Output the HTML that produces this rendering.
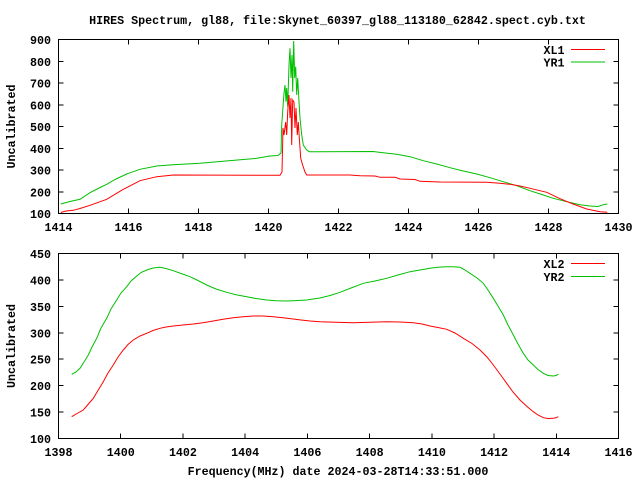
<!DOCTYPE html>
<html><head><meta charset="utf-8"><style>
html,body{margin:0;padding:0;background:#fff;}
svg{display:block;}
text{font-family:"Liberation Mono","DejaVu Sans Mono",monospace;font-size:11.67px;font-weight:bold;fill:#000;}
</style></head><body>
<svg width="640" height="480" viewBox="0 0 640 480" xmlns="http://www.w3.org/2000/svg">
<rect width="640" height="480" fill="#fff"/>
<text x="337.5" y="24" text-anchor="middle">HIRES Spectrum, gl88, file:Skynet_60397_gl88_113180_62842.spect.cyb.txt</text>

<!-- TOP PLOT -->
<g shape-rendering="crispEdges" stroke="#000" stroke-width="1" fill="none">
<rect x="58.5" y="39.5" width="560" height="174"/>
<path d="M58.5 213.5h5M618.5 213.5h-5M58.5 191.75h5M618.5 191.75h-5M58.5 170h5M618.5 170h-5M58.5 148.25h5M618.5 148.25h-5M58.5 126.5h5M618.5 126.5h-5M58.5 104.75h5M618.5 104.75h-5M58.5 83h5M618.5 83h-5M58.5 61.25h5M618.5 61.25h-5"/>
<path d="M128.5 213.5v-5M128.5 39.5v5M198.5 213.5v-5M198.5 39.5v5M268.5 213.5v-5M268.5 39.5v5M338.5 213.5v-5M338.5 39.5v5M408.5 213.5v-5M408.5 39.5v5M478.5 213.5v-5M478.5 39.5v5M548.5 213.5v-5M548.5 39.5v5"/>
</g>
<g text-anchor="end">
<text x="51" y="218">100</text><text x="51" y="196.25">200</text><text x="51" y="174.5">300</text><text x="51" y="152.75">400</text><text x="51" y="131">500</text><text x="51" y="109.25">600</text><text x="51" y="87.5">700</text><text x="51" y="65.75">800</text><text x="51" y="44">900</text>
</g>
<g text-anchor="middle">
<text x="58.5" y="231">1414</text><text x="128.5" y="231">1416</text><text x="198.5" y="231">1418</text><text x="268.5" y="231">1420</text><text x="338.5" y="231">1422</text><text x="408.5" y="231">1424</text><text x="478.5" y="231">1426</text><text x="548.5" y="231">1428</text><text x="618.5" y="231">1430</text>
</g>
<text transform="translate(15,126.5) rotate(-90)" text-anchor="middle">Uncalibrated</text>

<polyline fill="none" stroke="#00c000" stroke-width="1" points="60.7,204 70,201.5 80,199.3 90,192.7 100,187.5 106.7,184.3 116,179 126.7,174 140,169.3 156.7,166 173,164.7 200,163.3 223,161.3 256.7,158.3 270,156 278,155.5 281,153 281.7,125 284,93 285,85 286,101.7 286.7,88 287.7,106.7 289,65 290,48.3 291,78 292,55 292.7,91.7 293.7,41 294.7,78 295.7,66.7 296.7,95 297.7,78 299,101.7 300,118 301.7,135 303.3,145 306.7,150 309.3,151.7 320,151.7 373,151.5 383,152.7 396.7,154.3 410,156.7 423.3,160.7 436.7,164 450,167.7 463.3,171 476.7,174 490,177.7 503.3,181.7 516.7,185.7 530,190.7 543.3,195 553.3,198.3 566.7,201.7 580,204.7 590,206 598,206.5 603.3,204.7 607.3,204"/>
<polyline fill="none" stroke="#ff0000" stroke-width="1" points="60.7,212.5 66,211 73.3,210.3 80,208.5 90,205.3 106.7,199.3 123.3,189.3 140,180.7 156.7,176.7 173.3,175 280,175.3 282,172 283,128 284,135 285.7,122 286.7,135 287.7,112 289,95 290,118 291,98 291.7,145 292.7,100 294,102 295,128 296,108 297.3,135 298.3,122 299.3,138 300.7,158 301.7,162 303.3,167 305,172 306.7,175 350,175 360,175.7 375,176 380,177.3 395,177.3 400,179 415,179.5 420,181.3 440,182 486.7,182.3 500,183.3 510,184.3 520,186 530,188.3 546.7,192.3 560,198.7 573,204 586.7,209 600,211.7 607.3,212.3"/>

<text x="564.5" y="54" text-anchor="end">XL1</text>
<line x1="571" y1="49.5" x2="605" y2="49.5" stroke="#ff0000" stroke-width="1"/>
<text x="564.5" y="66.5" text-anchor="end">YR1</text>
<line x1="571" y1="62" x2="605" y2="62" stroke="#00c000" stroke-width="1"/>

<!-- BOTTOM PLOT -->
<g shape-rendering="crispEdges" stroke="#000" stroke-width="1" fill="none">
<rect x="58.5" y="253.5" width="560" height="185"/>
<path d="M58.5 412.07h5M618.5 412.07h-5M58.5 385.64h5M618.5 385.64h-5M58.5 359.21h5M618.5 359.21h-5M58.5 332.79h5M618.5 332.79h-5M58.5 306.36h5M618.5 306.36h-5M58.5 279.93h5M618.5 279.93h-5"/>
<path d="M120.72 438.5v-5M120.72 253.5v5M182.94 438.5v-5M182.94 253.5v5M245.17 438.5v-5M245.17 253.5v5M307.39 438.5v-5M307.39 253.5v5M369.61 438.5v-5M369.61 253.5v5M431.83 438.5v-5M431.83 253.5v5M494.06 438.5v-5M494.06 253.5v5M556.28 438.5v-5M556.28 253.5v5"/>
</g>
<g text-anchor="end">
<text x="51" y="443">100</text><text x="51" y="416.57">150</text><text x="51" y="390.14">200</text><text x="51" y="363.71">250</text><text x="51" y="337.29">300</text><text x="51" y="310.86">350</text><text x="51" y="284.43">400</text><text x="51" y="258">450</text>
</g>
<g text-anchor="middle">
<text x="58.5" y="456">1398</text><text x="120.72" y="456">1400</text><text x="182.94" y="456">1402</text><text x="245.17" y="456">1404</text><text x="307.39" y="456">1406</text><text x="369.61" y="456">1408</text><text x="431.83" y="456">1410</text><text x="494.06" y="456">1412</text><text x="556.28" y="456">1414</text><text x="618.5" y="456">1416</text>
</g>
<text transform="translate(15,346) rotate(-90)" text-anchor="middle">Uncalibrated</text>
<text x="338" y="475" text-anchor="middle">Frequency(MHz) date 2024-03-28T14:33:51.000</text>

<polyline fill="none" stroke="#00c000" stroke-width="1" points="71.7,374.3 76,372 80,368.3 84,362 88.3,355 92,347 96.7,338.3 101,328 106.7,318.3 111,309 116.7,300 121,293 126.7,286.7 131,281 136.7,276 141,272.5 146.7,270 153,268 160,267.3 166,268.5 173.3,270.7 181,273.5 190,276.7 198,280.5 206.7,285 216,289 226.7,292.3 236,294.7 246.7,296.7 256,298.5 266.7,300 276,300.8 286.7,301 296,300.6 306.7,300 313,299 320,298 330,295.5 340,292.3 351,288 363.3,283.3 375,281 386.7,278.3 398,275 410,271.7 420,270 430,268.3 438,267.3 446.7,266.7 453,266.8 460,267.3 465,270 470,273.3 477,278 483.3,283.3 488,290 493.3,298.3 498,306 503.3,315 508,325 513.3,335 518,344 523.3,353.3 528,360 533.3,365 538,369.5 543.3,373.3 548,375.5 553.3,376 556,375.5 558.3,374.3"/>
<polyline fill="none" stroke="#ff0000" stroke-width="1" points="71.7,416.7 77,413.5 83.3,410 88,404.5 93.3,398.3 98,390.5 103.3,381.7 108,373 113.3,365 118,357 123.3,350 128,344.5 133.3,340 140,336 146.7,333.3 153,330.5 160,328.3 166,327 173.3,326 183,325 193.3,324 203,322.8 213.3,321 223,319.3 233.3,317.7 243,316.7 253.3,316 263,316 273.3,316.7 283,317.8 293.3,319 301,320 310,321 320,321.7 336,322.3 353.3,322.7 370,322.3 386.7,321.7 400,322 413.3,322.7 422,324 430,326 438,327.5 446.7,329.3 455,333 463.3,338.3 472,343.5 480,350 487,357 493.3,365 500,374 506.7,383.3 513,392 520,400 527,406.5 533.3,411.7 538,415 543.3,417.7 548,418.5 553.3,418.3 556,417.8 558.3,416.7"/>

<text x="564.5" y="268" text-anchor="end">XL2</text>
<line x1="571" y1="263.5" x2="605" y2="263.5" stroke="#ff0000" stroke-width="1"/>
<text x="564.5" y="281" text-anchor="end">YR2</text>
<line x1="571" y1="276.5" x2="605" y2="276.5" stroke="#00c000" stroke-width="1"/>
</svg>
</body></html>
